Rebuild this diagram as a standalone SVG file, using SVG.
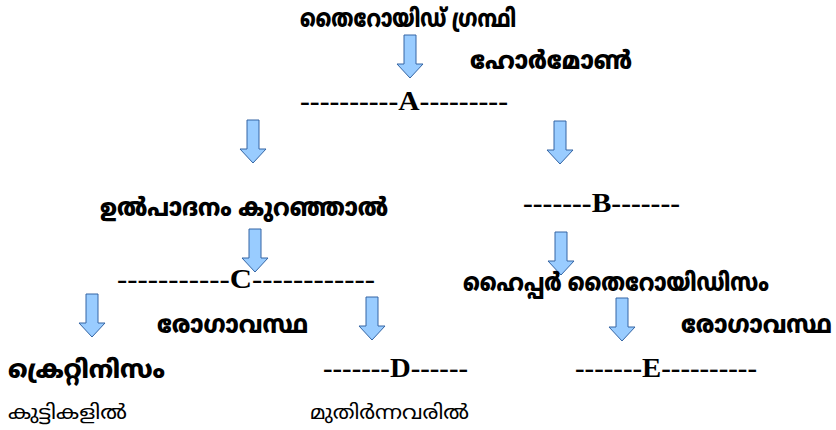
<svg xmlns="http://www.w3.org/2000/svg" xmlns:xlink="http://www.w3.org/1999/xlink" width="836" height="430" viewBox="0 0 836 430">
<style>
.ml{font-family:"Noto Sans Malayalam","Noto Sans","DejaVu Sans",sans-serif;font-weight:900;font-size:25px;fill:#000}
.mlr{font-family:"Noto Sans Malayalam","Noto Sans","DejaVu Sans",sans-serif;font-size:20px;fill:#000}
.ds{font-family:"Liberation Serif","Times New Roman",serif;font-weight:bold;font-size:28px;fill:#000}
.arr{fill:#99ccff;stroke:#3465a4;stroke-width:1}
</style>
<defs>
<path id="ar" class="arr" d="M-6,0 H6 V29 H13 L0,43 L-13,29 H-6 Z"/>
</defs>
<rect width="836" height="430" fill="#fff"/>
<g id="connectors">
<use xlink:href="#ar" href="#ar" x="410" y="35"/>
<use xlink:href="#ar" href="#ar" x="253" y="120"/>
<use xlink:href="#ar" href="#ar" x="560" y="121"/>
<use xlink:href="#ar" href="#ar" x="255" y="229"/>
<use xlink:href="#ar" href="#ar" x="561" y="232"/>
<use xlink:href="#ar" href="#ar" x="92" y="294"/>
<use xlink:href="#ar" href="#ar" x="372" y="297"/>
<use xlink:href="#ar" href="#ar" x="622" y="298"/>
</g>
<g id="n-gland"><text class="ml" x="300" y="27" textLength="216" lengthAdjust="spacingAndGlyphs">തൈറോയിഡ് ഗ്രന്ഥി</text></g>
<g id="n-hormone"><text class="ml" x="470" y="69" textLength="162" lengthAdjust="spacingAndGlyphs">ഹോർമോൺ</text></g>
<g id="n-A"><text class="ds" x="300" y="110" textLength="208" lengthAdjust="spacingAndGlyphs">----------A---------</text></g>
<g id="n-low"><text class="ml" x="100" y="216" textLength="288" lengthAdjust="spacingAndGlyphs">ഉൽപാദനം കുറഞ്ഞാൽ</text></g>
<g id="n-B"><text class="ds" x="523" y="212" textLength="157" lengthAdjust="spacingAndGlyphs">-------B-------</text></g>
<g id="n-C"><text class="ds" x="117" y="288" textLength="258" lengthAdjust="spacingAndGlyphs">-----------C------------</text></g>
<g id="n-hyper"><text class="ml" transform="translate(463,291) scale(0.82,1)" x="0" y="0" textLength="373" lengthAdjust="spacingAndGlyphs">ഹൈപ്പർ തൈറോയിഡിസം</text></g>
<g id="n-cond1"><text class="ml" x="157" y="333" textLength="151" lengthAdjust="spacingAndGlyphs">രോഗാവസ്ഥ</text></g>
<g id="n-cond2"><text class="ml" transform="translate(681,333) scale(0.87,1)" x="0" y="0" textLength="173.5" lengthAdjust="spacingAndGlyphs">രോഗാവസ്ഥ</text></g>
<g id="n-cretin"><text class="ml" x="8" y="378" textLength="157" lengthAdjust="spacingAndGlyphs">ക്രെറ്റിനിസം</text></g>
<g id="n-D"><text class="ds" x="323" y="377" textLength="145" lengthAdjust="spacingAndGlyphs">-------D------</text></g>
<g id="n-E"><text class="ds" x="575" y="377" textLength="182" lengthAdjust="spacingAndGlyphs">-------E----------</text></g>
<g id="n-children"><text class="mlr" x="8" y="419" textLength="119" lengthAdjust="spacingAndGlyphs">കുട്ടികളിൽ</text></g>
<g id="n-adults"><text class="mlr" x="310" y="419" textLength="159" lengthAdjust="spacingAndGlyphs">മുതിർന്നവരിൽ</text></g>
</svg>
